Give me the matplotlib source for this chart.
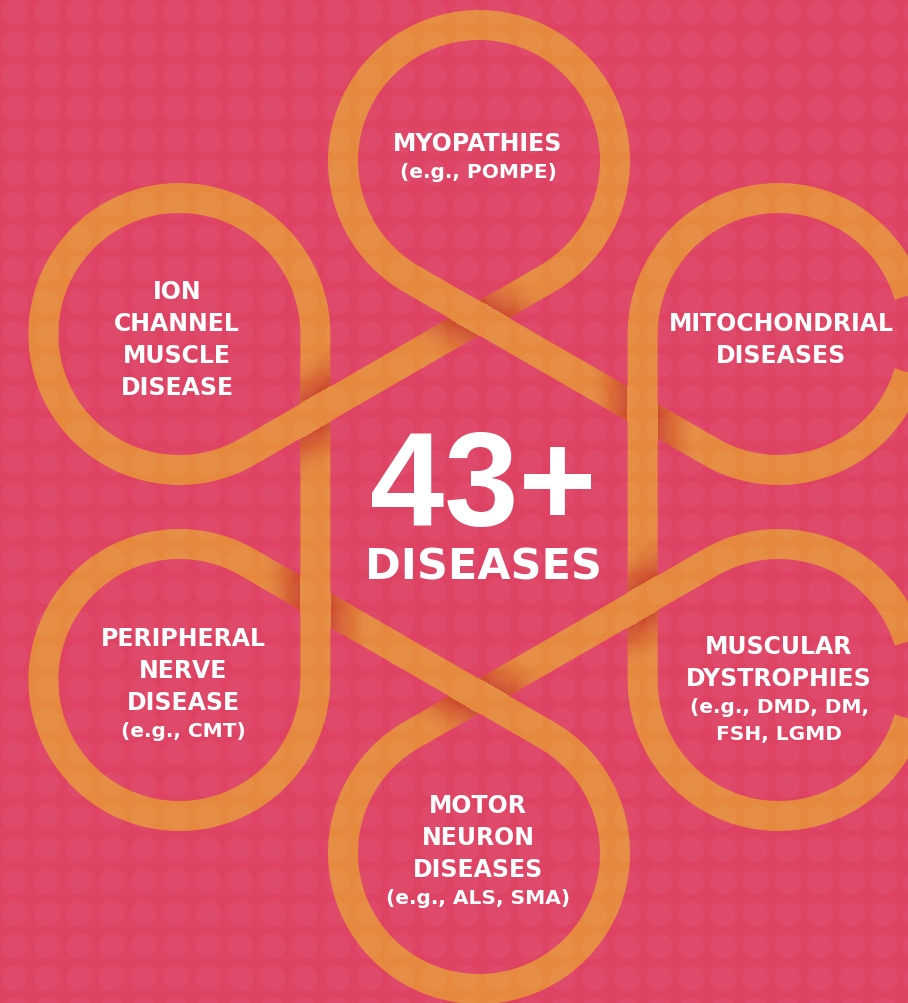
import numpy as np
import matplotlib.pyplot as plt
from matplotlib.patches import Circle
from matplotlib.collections import PatchCollection

# Дані: петлі по колу (кут положення, назва, приклади)
loop_angles = [90, 30, -30, -90, -150, 150]
loop_titles = [
    ["MYOPATHIES"],
    ["MITOCHONDRIAL", "DISEASES"],
    ["MUSCULAR", "DYSTROPHIES"],
    ["MOTOR", "NEURON", "DISEASES"],
    ["PERIPHERAL", "NERVE", "DISEASE"],
    ["ION", "CHANNEL", "MUSCLE", "DISEASE"],
]
loop_examples = [
    ["(e.g., POMPE)"],
    [],
    ["(e.g., DMD, DM,", "FSH, LGMD"],
    ["(e.g., ALS, SMA)"],
    ["(e.g., CMT)"],
    [],
]
big_number = "43+"
big_label = "DISEASES"

# Розміри та кольори
W, H = 908, 1004
cx, cy = 479, 508          # центр композиції
ring_dist = 346            # відстань до центрів петель
ring_r = 136               # радіус петлі (по осі стрічки)
band = 30                  # ширина стрічки, px
fade = 38                  # довжина тіні на перехресті
bg = '#DE4364'
orange = '#E6893F'
shade_rgb = (0.76, 0.18, 0.15)

# Положення першого рядка тексту для кожної петлі
text_x = [478, 781, 779, 478, 183, 177]
text_y0 = [142, 322, 645, 804, 637, 290]

fig = plt.figure(figsize=(W / 100, H / 100), dpi=100)
fig.patch.set_facecolor(bg)
ax = fig.add_axes([0, 0, 1, 1])
ax.set_facecolor(bg)

# Стрічка: дуги по 300 градусів, з'єднані дотичними
xs, ys = [], []
for phi in loop_angles:
    t = np.radians(np.linspace(phi + 210, phi + 510, 240))
    p = np.radians(phi)
    xs.append(cx + ring_dist * np.cos(p) + ring_r * np.cos(t))
    ys.append(cy - ring_dist * np.sin(p) - ring_r * np.sin(t))
xs = np.concatenate(xs + [xs[0][:1]])
ys = np.concatenate(ys + [ys[0][:1]])
ax.plot(xs, ys, color=orange, lw=band * 0.72, solid_joinstyle='round',
        solid_capstyle='butt', zorder=2)

# Тіні на перехрестях (нижня стрічка темніє біля верхньої)
yy, xx = np.mgrid[0:H, 0:W] + 0.5
X = xx - cx
Y = cy - yy
apo = ring_dist * np.cos(np.radians(30)) - ring_r
vd = apo / np.cos(np.radians(30))
alpha = np.zeros((H, W))
for psi in loop_angles:
    pr = np.radians(psi)
    px, py = vd * np.cos(pr), vd * np.sin(pr)
    no = np.radians(psi - 30)
    nu = np.radians(psi + 30)
    d_o = np.abs((X - px) * np.cos(no) + (Y - py) * np.sin(no))
    d_u = np.abs((X - px) * np.cos(nu) + (Y - py) * np.sin(nu))
    inside_u = np.clip(band / 2 + 0.5 - d_u, 0, 1)
    tt = (d_o - band / 2 - 0.5) / fade
    s = np.where(tt >= 0, np.clip(1 - tt, 0, 1) ** 1.4, 0)
    alpha = np.maximum(alpha, 0.68 * s * inside_u)
img = np.zeros((H, W, 4))
img[..., 0], img[..., 1], img[..., 2] = shade_rgb
img[..., 3] = alpha
ax.imshow(img, extent=(0, W, H, 0), interpolation='bilinear', zorder=3)

# Фоновий візерунок з кружечків
dots = [Circle((x, y), 13) for x in np.arange(15, W + 20, 32.2)
        for y in np.arange(13, H + 20, 32.2)]
ax.add_collection(PatchCollection(dots, facecolor='white', edgecolor='none',
                                  alpha=0.04, zorder=4))

# Підписи в петлях
for k in range(len(loop_angles)):
    y = text_y0[k]
    for line in loop_titles[k]:
        ax.text(text_x[k], y + 9, line, color='white', fontsize=17,
                fontweight='bold', family='DejaVu Sans', ha='center',
                va='baseline', zorder=5)
        y += 32
    if loop_titles[k] and loop_examples[k]:
        y -= 3
    for line in loop_examples[k]:
        ax.text(text_x[k], y + 7, line, color='white', fontsize=14.5,
                fontweight='bold', family='DejaVu Sans', ha='center',
                va='baseline', zorder=5)
        y += 27

# Центральний напис
ax.text(483, 526, big_number, color='white', fontsize=96, fontweight='bold',
        family='Liberation Sans', ha='center', va='baseline', zorder=5)
ax.text(483, 580, big_label, color='white', fontsize=31, fontweight='bold',
        family='DejaVu Sans', ha='center', va='baseline', zorder=5)

ax.set_xlim(0, W)
ax.set_ylim(H, 0)
ax.set_aspect('auto')
ax.axis('off')
fig.savefig('out.png', dpi=100, facecolor=bg)
